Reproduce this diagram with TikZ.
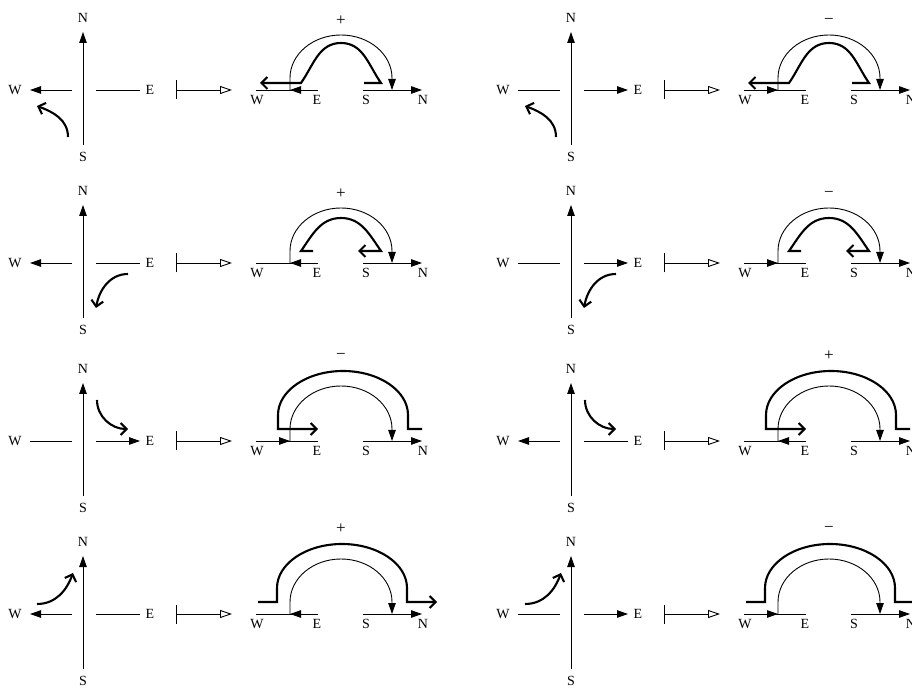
\documentclass[tikz,border=0pt]{standalone}
\usepackage{fontspec}
\setmainfont{Liberation Serif}
\usetikzlibrary{arrows.meta}

\begin{document}
\begin{tikzpicture}[x=1pt,y=1pt,
  road/.style={line width=.9pt},
  flow/.style={line width=.9pt,-{Triangle[length=11pt,width=7.5pt]}},
  turn/.style={line width=2.1pt,-{Straight Barb[length=6pt,width=12pt]}},
  mapsto/.style={line width=.9pt,{Bar[width=19pt]}-{Triangle[open,length=12pt,width=8pt]}},
  lab/.style={font=\fontsize{14}{16}\selectfont,inner sep=0pt},
  sign/.style={font=\fontsize{17}{19}\selectfont,inner sep=0pt}]
  \clip (0,0) rectangle (912,688);
  % column x / row y / way on W--E (1 = to E) / sign / sign height
  \foreach \cx/\ry/\dir/\sgn/\sy [count=\i] in {83/598/-1/+/69,83/425/-1/+/69,
      83/247/1/−/85,83/74/-1/+/85,571/598/1/−/69,571/425/1/−/69,
      571/247/-1/+/85,571/74/1/−/85} {
    \begin{scope}[shift={(\cx,\ry)}]
      % crossing
      \ifnum\dir=1
        \draw[road] (-53,0) -- (-11,0);
        \draw[flow] (13,0) -- (57,0);
      \else
        \draw[flow] (-11,0) -- (-53,0);
        \draw[road] (13,0) -- (57,0);
      \fi
      \draw[flow] (0,-55) -- (0,58);
      \node[lab] (w\i) at (-68,0) {W};
      \node[lab] (e\i) at (67,0) {E};
      \node[lab] (n\i) at (0,72) {N};
      \node[lab] (s\i) at (0,-67) {S};
      \draw[mapsto] (93,0) -- (149,0);
      % unfolded roads
      \draw[road] (173,0) -- (235,0);
      \ifnum\dir=1
        \draw[flow] (173,0) -- (207,0);
      \else
        \draw[flow] (235,0) -- (207,0);
      \fi
      \draw[flow] (280,0) -- (339,0);
      \node[lab] (uw\i) at (174,-10) {W};
      \node[lab] (ue\i) at (234,-10) {E};
      \node[lab] (us\i) at (283,-10) {S};
      \node[lab] (un\i) at (340,-10) {N};
      \draw[flow] (207,0) -- (207,12)
        arc[start angle=180,end angle=0,x radius=51,y radius=43] -- (309,0);
      \node[sign] (sg\i) at (258,\sy) {\sgn};
    \end{scope}
  }
  % turning moves
  \foreach \cx in {83,571} {
    \begin{scope}[shift={(\cx,598)}]
      \draw[turn] (-15,-47) to[out=90,in=-20] (-46,-16);
      \draw[turn] (281,7) -- (298,7) to[out=125,in=0] (258,47)
        to[out=180,in=55] (218,7) -- (177,7);
    \end{scope}
    \begin{scope}[shift={(\cx,425)}]
      \draw[turn] (45,-11) to[out=180,in=80] (13,-45);
      \draw[turn] (230,12) -- (218,12) to[out=55,in=180] (258,45)
        to[out=0,in=125] (298,12) -- (275,12);
    \end{scope}
    \begin{scope}[shift={(\cx,247)}]
      \draw[turn] (14,41) to[out=-90,in=180] (45,12);
      \draw[turn] (339,12) -- (325,12) -- (325,26)
        arc[start angle=0,end angle=180,x radius=65,y radius=44]
        -- (195,12) -- (235,12);
    \end{scope}
    \begin{scope}[shift={(\cx,74)}]
      \draw[turn] (-46,10) to[out=0,in=250] (-10,41);
      \draw[turn] (175,12) -- (194,12) -- (194,26)
        arc[start angle=180,end angle=0,x radius=65,y radius=44]
        -- (324,12) -- (354,12);
    \end{scope}
  }
\end{tikzpicture}
\end{document}
